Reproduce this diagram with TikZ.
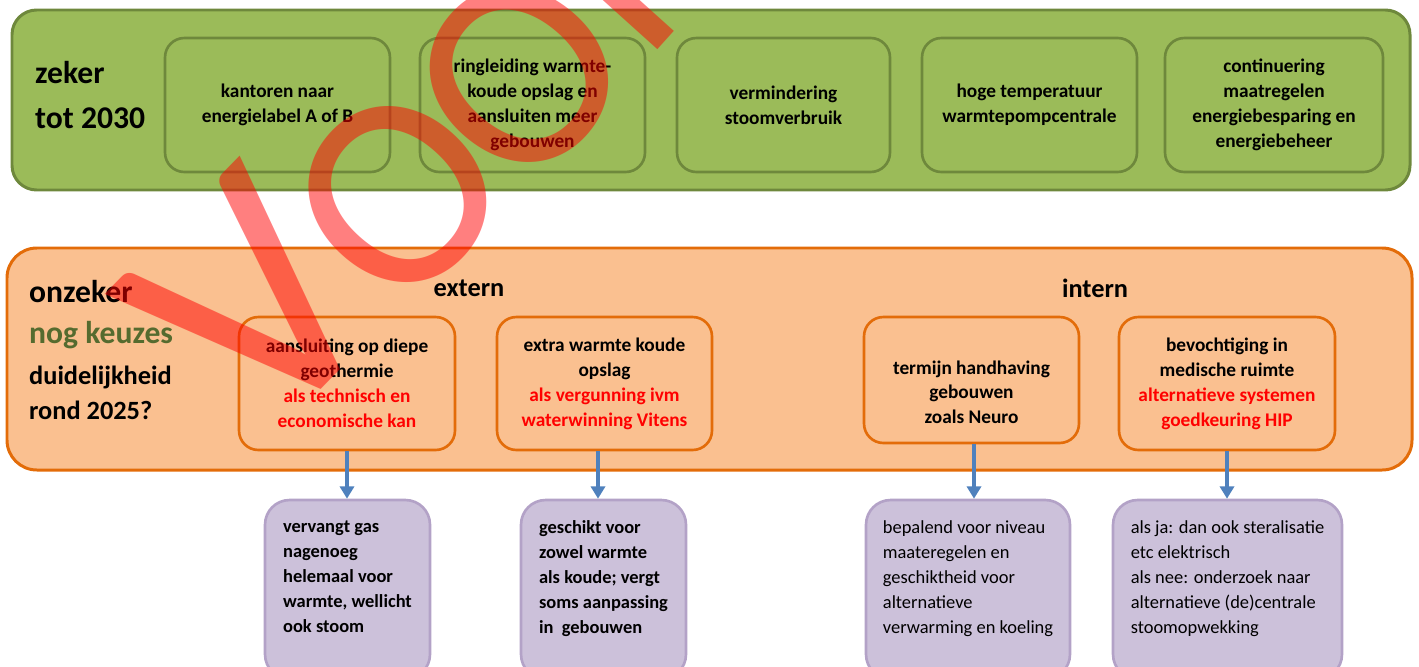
\documentclass[tikz,border=0pt]{standalone}
\usepackage{fontspec}
\setmainfont{Carlito}
\usetikzlibrary{arrows.meta}

\begin{document}
\begin{tikzpicture}[x=0.02cm,y=-0.02cm,
  kader/.style={rounded corners=14pt,line width=1.7pt},
  zekerblok/.style={draw=groenrand,fill=groen,rounded corners=11pt,line width=1.5pt,
    minimum height=2.68cm,align=center,inner sep=2pt,
    font=\fontsize{11}{14.2}\selectfont\bfseries},
  onzekerblok/.style={draw=oranjerand,fill=oranje,rounded corners=11pt,line width=1.5pt,
    minimum width=4.32cm,minimum height=2.66cm,align=center,inner sep=2pt,
    font=\fontsize{11}{14.2}\selectfont\bfseries},
  gevolgblok/.style={draw=paarsrand,fill=paars,rounded corners=14pt,line width=1.5pt,
    minimum height=3.58cm,align=left,inner sep=2pt,
    font=\fontsize{10.5}{14.2}\selectfont\bfseries},
  kop/.style={font=\fontsize{15}{18}\selectfont\bfseries},
  pijl/.style={draw=blauw,line width=2pt,-{Triangle[width=8pt,length=7pt]}},
  watermerk/.style={text=red,opacity=0.5,inner sep=0pt,font=\fontsize{158}{158}\selectfont}]
\definecolor{groen}{RGB}{155,187,89}
\definecolor{groenrand}{RGB}{110,136,60}
\definecolor{oranje}{RGB}{250,192,144}
\definecolor{oranjerand}{RGB}{227,108,9}
\definecolor{paars}{RGB}{204,193,218}
\definecolor{paarsrand}{RGB}{179,162,199}
\definecolor{blauw}{RGB}{79,129,189}
\definecolor{keuzegroen}{RGB}{85,107,47}
\definecolor{rood}{RGB}{255,0,0}
\useasboundingbox (0,0) rectangle (1419,666);

% zeker tot 2030
\draw[kader,draw=groenrand,fill=groen] (12,10) rectangle (1410,190);
\node[anchor=west,align=left,font=\fontsize{18}{25.5}\selectfont\bfseries] (zeker) at (29,95) {zeker\\tot 2030};
\node[zekerblok,minimum width=4.5cm] (g1) at (277.5,105) {kantoren naar\\energielabel A of B};
\node[zekerblok,minimum width=4.5cm] (g2) at (532.5,105) {ringleiding warmte-\\koude opslag en\\aansluiten meer\\gebouwen};
\node[zekerblok,minimum width=4.26cm] (g3) at (783.5,105) {vermindering\\stoomverbruik};
\node[zekerblok,minimum width=4.3cm] (g4) at (1029.5,105) {hoge temperatuur\\warmtepompcentrale};
\node[zekerblok,minimum width=4.36cm] (g5) at (1274,105) {continuering\\maatregelen\\energiebesparing en\\energiebeheer};

% onzeker
\draw[kader,draw=oranjerand,fill=oranje,rounded corners=17pt] (7,248) rectangle (1412,470);
\node[anchor=west,font=\fontsize{18}{22}\selectfont\bfseries] (onzeker) at (23,292) {onzeker};
\node[anchor=west,font=\fontsize{18}{22}\selectfont\bfseries,text=keuzegroen] (keuzes) at (23,335) {nog keuzes};
\node[anchor=west,font=\fontsize{15}{18}\selectfont\bfseries] (duidelijk) at (23,377) {duidelijkheid};
\node[anchor=west,font=\fontsize{15}{18}\selectfont\bfseries] (rond) at (23,410) {rond 2025?};
\node[kop] (extern) at (469,288) {extern};
\node[kop] (intern) at (1095,288) {intern};

\node[onzekerblok] (o1) at (347,383.5) {aansluiting op diepe\\geothermie\\\textcolor{rood}{als technisch en}\\\textcolor{rood}{economische kan}};
\node[onzekerblok,minimum width=4.3cm] (o2) at (604.5,383.5) {extra warmte koude\\opslag\\\textcolor{rood}{als vergunning ivm}\\\textcolor{rood}{waterwinning Vitens}};
\node[onzekerblok,minimum width=4.3cm,minimum height=2.52cm] (o3) at (971.5,380) {\rule{0pt}{7.5pt}\\termijn handhaving\\gebouwen\\zoals Neuro};
\node[onzekerblok] (o4) at (1227,383.5) {bevochtiging in\\medische ruimte\\\textcolor{rood}{alternatieve systemen}\\\textcolor{rood}{goedkeuring HIP}};

% gevolgen
\node[gevolgblok,minimum width=3.3cm] (p1) at (347.5,589.5) {vervangt gas\\nagenoeg\\helemaal voor\\warmte, wellicht\\ook stoom\\\mbox{}};
\node[gevolgblok,minimum width=3.3cm] (p2) at (603.5,589.5) {geschikt voor\\zowel warmte\\als koude; vergt\\soms aanpassing\\in\ \ gebouwen\\\mbox{}};
\node[gevolgblok,minimum width=4.08cm,font=\fontsize{10.5}{14.2}\selectfont] (p3) at (968,589.5) {bepalend voor niveau\\maateregelen en\\geschiktheid voor\\alternatieve\\verwarming en koeling\\\mbox{}};
\node[gevolgblok,minimum width=4.58cm,font=\fontsize{10.5}{14.2}\selectfont] (p4) at (1227.5,589.5) {als ja: dan ook steralisatie\\etc elektrisch\\als nee: onderzoek naar\\alternatieve (de)centrale\\stoomopwekking\\\mbox{}};

\draw[pijl] (o1.south) -- (o1.south |- p1.north);
\draw[pijl] ([xshift=-0.13cm]o2.south) -- ([xshift=-0.13cm]o2.south |- p2.north);
\draw[pijl] ([xshift=0.05cm]o3.south) -- ([xshift=0.05cm]o3.south |- p3.north);
\draw[pijl] (o4.south) -- (o4.south |- p4.north);

% watermerk
\node[watermerk,rotate=45.7,font=\fontsize{196}{196}\selectfont] (wmV) at (252,302) {V};
\node[watermerk,rotate=48] (wmO1) at (398,195) {O};
\node[watermerk,rotate=50] (wmO2) at (519,75) {O};
\node[watermerk,rotate=48,anchor=base west] (wmR) at (644,65) {R};
\end{tikzpicture}
\end{document}
